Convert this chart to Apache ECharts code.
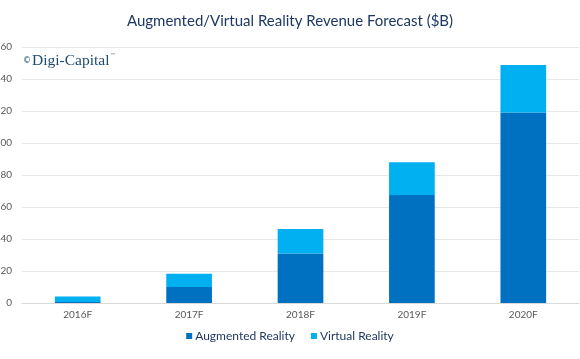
<!DOCTYPE html>
<html><head><meta charset="utf-8">
<script src="https://cdn.jsdelivr.net/npm/echarts@6/dist/echarts.min.js"></script>
<style>html,body{margin:0;padding:0;background:#fff}#c{width:580px;height:359px}</style>
</head><body><div id="c"></div>
<script>
const categories = ['2016F','2017F','2018F','2019F','2020F'];
const arValues = [0.6, 10, 31, 67.5, 119];
const vrValues = [3.4, 8.3, 15.2, 20.5, 29.7];
const yTicks = {min: 0, max: 160, interval: 20};

const chart = echarts.init(document.getElementById('c'), null, {renderer: 'canvas'});
chart.setOption({
  backgroundColor: '#fff',
  animation: false,
  title: {
    text: 'Augmented/Virtual Reality Revenue Forecast ($B)',
    left: 'center', top: 9,
    textStyle: {color: '#1f3864', fontSize: 15, fontWeight: 'normal', fontFamily: 'Lato'}
  },
  graphic: [{
    type: 'text', left: 23, top: 53,
    style: {
      text: '{c|©}{t|Digi-Capital}{m|™}',
      rich: {
        c: {fontSize: 8, fill: '#1e4a6e', fontFamily: 'DejaVu Sans', padding: [0, 1, 0, 0]},
        t: {fontSize: 15.5, fill: '#1e4a6e', fontFamily: 'Liberation Serif'},
        m: {fontSize: 5, fill: '#1e4a6e', fontFamily: 'DejaVu Sans', verticalAlign: 'top', padding: [0, 0, 8, 1]}
      }
    }
  }],
  legend: {
    top: 325, left: 'center', itemWidth: 6, itemHeight: 6, itemGap: 16,
    icon: 'rect',
    textStyle: {color: '#1f3864', fontSize: 12, fontFamily: 'Lato', padding: [0, 0, 0, -2]},
    data: ['Augmented Reality', 'Virtual Reality']
  },
  grid: {left: 22, right: 1, top: 47, bottom: 56, outerBoundsMode: 'none', containLabel: false},
  xAxis: {
    type: 'category', data: categories,
    axisLine: {lineStyle: {color: '#d9d9d9'}},
    axisTick: {show: false},
    axisLabel: {color: '#595959', fontSize: 10, margin: 7, fontFamily: 'Lato'}
  },
  yAxis: {
    type: 'value', min: yTicks.min, max: yTicks.max, interval: yTicks.interval,
    axisLine: {show: false}, axisTick: {show: false},
    splitLine: {lineStyle: {color: '#e6e6e6'}},
    axisLabel: {color: '#595959', fontSize: 10, margin: 10, fontFamily: 'Lato'}
  },
  series: [
    {name: 'Augmented Reality', type: 'bar', stack: 't', data: arValues, barWidth: '41%',
     itemStyle: {color: '#0070c0'}},
    {name: 'Virtual Reality', type: 'bar', stack: 't', data: vrValues, barWidth: '41%',
     itemStyle: {color: '#00b0f0'}}
  ]
});
</script></body></html>
